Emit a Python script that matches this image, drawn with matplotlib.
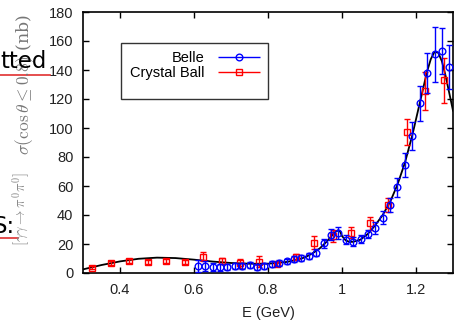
import numpy as np
import matplotlib as mpl
mpl.use("Agg")
import matplotlib.pyplot as plt
from matplotlib.lines import Line2D
from matplotlib.patches import Rectangle
from matplotlib.container import ErrorbarContainer
from matplotlib.legend_handler import HandlerErrorbar

mpl.rcParams['font.family'] = ['Liberation Sans', 'DejaVu Sans']
mpl.rcParams['font.size'] = 10.5

# Belle points (E in GeV, sigma in nb)
belle_e = [0.61, 0.63, 0.65, 0.67, 0.69, 0.71, 0.73, 0.75, 0.77, 0.79,
           0.81, 0.83, 0.85, 0.87, 0.89, 0.91, 0.93, 0.95, 0.97, 0.99,
           1.01, 1.03, 1.05, 1.07, 1.09, 1.11, 1.13, 1.15, 1.17, 1.19,
           1.21, 1.23, 1.25, 1.27, 1.29]
belle_sig = [5.0, 4.6, 4.2, 3.9, 4.0, 4.7, 5.0, 5.3, 4.3, 4.9,
             6.0, 7.0, 8.0, 9.5, 10.5, 11.5, 14.0, 20.5, 26.5, 27.5,
             23.0, 21.5, 23.5, 27.0, 31.0, 38.0, 47.0, 59.0, 74.5, 94.5,
             117.0, 138.0, 151.0, 153.0, 142.0]
belle_err = [4.0, 3.5, 2.5, 2.5, 2.0, 2.0, 2.0, 2.0, 2.0, 2.0,
             2.0, 2.0, 2.0, 2.0, 2.0, 2.0, 2.5, 3.0, 4.0, 4.0,
             3.0, 3.0, 3.0, 3.0, 4.0, 4.5, 5.0, 6.5, 8.0, 9.5,
             12.0, 14.0, 19.0, 16.0, 15.0]

# Crystal Ball points
cb_e = [0.325, 0.375, 0.425, 0.475, 0.525, 0.575, 0.625, 0.675, 0.725, 0.775,
        0.825, 0.875, 0.925, 0.975, 1.025, 1.075, 1.125, 1.175, 1.225, 1.275]
cb_sig = [3.5, 7.0, 8.3, 7.8, 8.3, 7.6, 11.3, 8.3, 6.7, 7.8,
          6.2, 11.0, 21.0, 25.5, 27.8, 34.2, 47.0, 97.5, 125.7, 133.0]
cb_err = [1.0, 1.5, 1.5, 1.5, 1.5, 1.5, 3.0, 2.0, 3.0, 4.0,
          1.5, 2.0, 4.5, 4.0, 4.0, 4.7, 5.0, 9.0, 13.0, 15.5]

# fitted curve
fit_e = [0.30, 0.35, 0.40, 0.45, 0.50, 0.55, 0.60, 0.65, 0.70, 0.75,
         0.80, 0.85, 0.88, 0.90, 0.92, 0.94, 0.96, 0.97, 0.98, 0.99,
         0.995, 1.00, 1.01, 1.02, 1.03, 1.05, 1.07, 1.09, 1.11, 1.13,
         1.15, 1.17, 1.19, 1.21, 1.22, 1.23, 1.24, 1.25, 1.26, 1.27,
         1.28, 1.29, 1.30]
fit_sig = [2.5, 5.5, 8.0, 9.8, 10.6, 10.3, 9.2, 7.9, 6.9, 6.4,
           6.4, 7.6, 9.2, 10.8, 13.5, 17.0, 22.0, 25.0, 28.0, 29.5,
           28.5, 25.5, 22.5, 21.5, 21.5, 23.0, 27.0, 33.0, 40.0, 49.0,
           61.0, 76.0, 95.0, 117.0, 128.0, 139.0, 147.5, 152.5, 152.0, 146.0,
           136.0, 124.0, 112.0]

fig = plt.figure(figsize=(4.55, 3.24), dpi=100)
ax = fig.add_axes([83/455, 51/324, 370/455, 261/324])

ax.plot(fit_e, fit_sig, color='black', lw=1.3, zorder=2)
ax.errorbar(cb_e, cb_sig, yerr=cb_err, fmt='s', color='red', mfc='none',
            ms=4.8, mew=1.0, elinewidth=1.0, capsize=2.2, zorder=3)
ax.errorbar(belle_e, belle_sig, yerr=belle_err, fmt='o', color='blue', mfc='none',
            ms=4.8, mew=1.0, elinewidth=1.0, capsize=2.2, zorder=4)

ax.set_xlim(0.3, 1.3)
ax.set_ylim(0, 180)
ax.set_xticks([0.4, 0.6, 0.8, 1.0, 1.2])
ax.set_xticklabels(['0.4', '0.6', '0.8', '1', '1.2'])
ax.set_yticks(np.arange(0, 181, 20))
ax.tick_params(direction='in', length=4, width=1, top=True, right=True,
               colors='black', labelcolor='#222222', pad=7)
for s in ax.spines.values():
    s.set_linewidth(1.2)
ax.set_xlabel('E (GeV)', labelpad=7, color='#222222')

# legend (gnuplot-like key: text on the left, horizontal bar on the right)
pb = ax.errorbar([], [], xerr=[], fmt='o', color='blue', mfc='none', ms=4.8,
                 mew=1.0, elinewidth=1.0, capsize=2.2, label='Belle')
pc = ax.errorbar([], [], xerr=[], fmt='s', color='red', mfc='none', ms=4.8,
                 mew=1.0, elinewidth=1.0, capsize=2.2, label='Crystal Ball')
ax.add_patch(Rectangle((0.103, 0.667), 0.397, 0.214, transform=ax.transAxes,
                       fill=False, edgecolor='#333333', lw=1.0, zorder=5))
ax.legend(handles=[pb, pc], markerfirst=False, frameon=False,
          loc='upper right', bbox_to_anchor=(0.51, 0.89),
          handler_map={ErrorbarContainer: HandlerErrorbar(xerr_size=1.45)},
          handlelength=3.1, handletextpad=0.8, labelspacing=0.05,
          borderpad=0.2, fontsize=10.5)

# y label, drawn in two pieces as in the original
mpl.rcParams['mathtext.fontset'] = 'cm'
fig.text(25/455, (324-84)/324, r'$\sigma(\cos\theta\leq0.8)$ (nb)',
         rotation=90, ha='center', va='center', color='#777777', fontsize=12.5,
         family='DejaVu Serif')
fig.text(21/455, (324-209)/324, r'$[\gamma\gamma\to\pi^0\pi^0]$',
         rotation=90, ha='center', va='center', color='#888888', fontsize=10.5)

# leftover page text at the left edge
fig.text(0.0, (324-68)/324, 'tted', fontsize=16.5, family='DejaVu Sans',
         color='black', ha='left', va='baseline')
fig.text(-7/455, (324-233)/324, 'S:', fontsize=16.5, family='DejaVu Sans',
         color='black', ha='left', va='baseline')
fig.add_artist(Line2D([0, 50/455], [(324-75)/324]*2, color='#e03030', lw=1.2,
                      transform=fig.transFigure))
fig.add_artist(Line2D([0, 18/455], [(324-238)/324]*2, color='#e03030', lw=1.2,
                      transform=fig.transFigure))

fig.savefig('out.png', dpi=100)
